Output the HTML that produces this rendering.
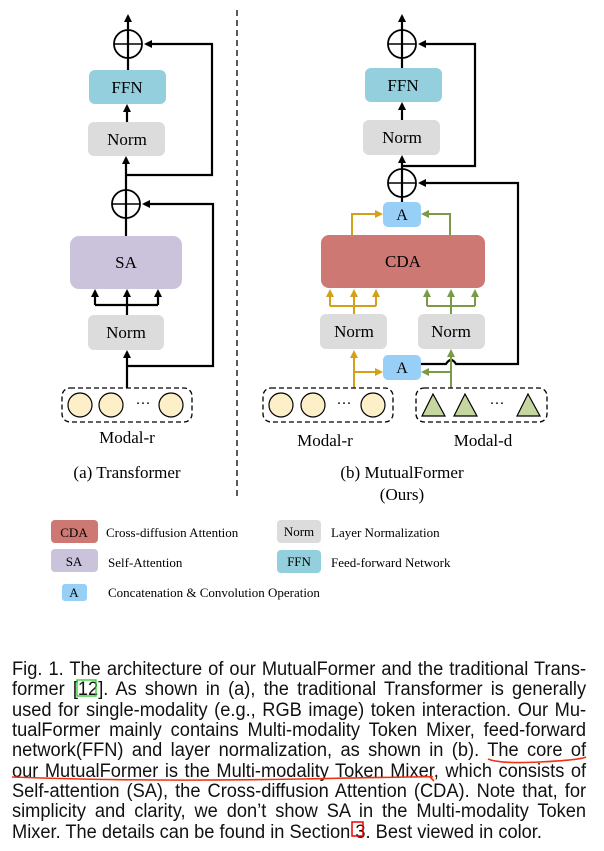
<!DOCTYPE html>
<html><head><meta charset="utf-8"><style>
body{margin:0;background:#fff;width:604px;height:851px;position:relative;overflow:hidden}
svg{position:absolute;left:0;top:0}
.cap{position:absolute;left:12px;width:598px;transform:scaleX(0.96);transform-origin:0 0;font-family:"Liberation Sans",sans-serif;font-size:19px;color:#111;line-height:20.35px;top:660px}
.cap div{text-align:justify;text-align-last:justify;white-space:nowrap}
.cap div.l{text-align-last:left}
</style></head><body>
<svg width="604" height="851" viewBox="0 0 604 851" font-family="Liberation Serif, serif">
<defs>
<marker id="ak" markerWidth="8" markerHeight="8" refX="6" refY="4" orient="auto" markerUnits="userSpaceOnUse"><path d="M0,0 L8,4 L0,8 z" fill="#000"/></marker>
<marker id="ay" markerWidth="8" markerHeight="8" refX="6" refY="4" orient="auto" markerUnits="userSpaceOnUse"><path d="M0,0 L8,4 L0,8 z" fill="#d4a017"/></marker>
<marker id="ag" markerWidth="8" markerHeight="8" refX="6" refY="4" orient="auto" markerUnits="userSpaceOnUse"><path d="M0,0 L8,4 L0,8 z" fill="#7a9a45"/></marker>
</defs>
<line x1="237" y1="10" x2="237" y2="500" stroke="#000" stroke-width="1.3" stroke-dasharray="6,4"/>
<g stroke="#000" stroke-width="2.2" fill="none">
<line x1="128" y1="30" x2="128" y2="16" marker-end="url(#ak)"/>
<circle cx="128" cy="44" r="14" stroke-width="1.8"/><line x1="114" y1="44" x2="142" y2="44" stroke-width="1.5"/><line x1="128" y1="30" x2="128" y2="70"/>
<polyline points="127,175 212,175 212,44 146,44" marker-end="url(#ak)"/>
<line x1="127" y1="122" x2="127" y2="106" marker-end="url(#ak)"/>
<line x1="126" y1="190" x2="126" y2="158" marker-end="url(#ak)"/>
<circle cx="126" cy="204" r="14" stroke-width="1.8"/><line x1="112" y1="204" x2="140" y2="204" stroke-width="1.5"/><line x1="126" y1="190" x2="126" y2="236"/>
<polyline points="127,366 213,366 213,204 144,204" marker-end="url(#ak)"/>
<line x1="127" y1="315" x2="127" y2="305"/><line x1="95" y1="305" x2="158" y2="305"/>
<line x1="95" y1="305" x2="95" y2="291" marker-end="url(#ak)"/><line x1="127" y1="305" x2="127" y2="291" marker-end="url(#ak)"/><line x1="158" y1="305" x2="158" y2="291" marker-end="url(#ak)"/>
<line x1="127" y1="388" x2="127" y2="352" marker-end="url(#ak)"/>
</g>
<rect x="89" y="70" width="77" height="34" rx="6" fill="#93cfdc"/><text x="127" y="93" font-size="17" text-anchor="middle">FFN</text>
<rect x="88" y="122" width="77" height="34" rx="6" fill="#dcdcdc"/><text x="127" y="145" font-size="17" text-anchor="middle">Norm</text>
<rect x="70" y="236" width="112" height="53" rx="9" fill="#cbc2dc"/><text x="126" y="268" font-size="17" text-anchor="middle">SA</text>
<rect x="88" y="315" width="76" height="35" rx="6" fill="#dcdcdc"/><text x="126" y="338" font-size="17" text-anchor="middle">Norm</text>
<rect x="62" y="388" width="130" height="34" rx="8" fill="none" stroke="#000" stroke-width="1.3" stroke-dasharray="5,3"/>
<g fill="#fdf0c8" stroke="#000" stroke-width="1.2"><circle cx="80" cy="405" r="12"/><circle cx="111" cy="405" r="12"/><circle cx="171" cy="405" r="12"/></g>
<text x="143" y="408" font-size="15" text-anchor="middle">···</text>
<text x="127" y="443" font-size="17" text-anchor="middle">Modal-r</text>
<text x="127" y="478" font-size="17" text-anchor="middle">(a) Transformer</text>
<g stroke="#000" stroke-width="2.2" fill="none">
<line x1="402" y1="30" x2="402" y2="16" marker-end="url(#ak)"/>
<circle cx="402" cy="44" r="14" stroke-width="1.8"/><line x1="388" y1="44" x2="416" y2="44" stroke-width="1.5"/><line x1="402" y1="30" x2="402" y2="68"/>
<polyline points="402,166 475,166 475,44 420,44" marker-end="url(#ak)"/>
<line x1="402" y1="120" x2="402" y2="104" marker-end="url(#ak)"/>
<line x1="402" y1="169" x2="402" y2="157" marker-end="url(#ak)"/>
<circle cx="402" cy="183" r="14" stroke-width="1.8"/><line x1="388" y1="183" x2="416" y2="183" stroke-width="1.5"/><line x1="402" y1="169" x2="402" y2="202"/>
<path d="M421,364 L446,364 Q451,356 456,364 L518,364 L518,183 L420,183" marker-end="url(#ak)"/>
</g>
<g stroke="#d4a017" stroke-width="2" fill="none">
<polyline points="352,235 352,214 381,214" marker-end="url(#ay)"/>
<line x1="354" y1="314" x2="354" y2="306"/><line x1="330" y1="306" x2="376" y2="306"/>
<line x1="330" y1="306" x2="330" y2="291" marker-end="url(#ay)"/><line x1="354" y1="306" x2="354" y2="291" marker-end="url(#ay)"/><line x1="376" y1="306" x2="376" y2="291" marker-end="url(#ay)"/>
<line x1="354" y1="388" x2="354" y2="352" marker-end="url(#ay)"/>
<polyline points="354,372 381,372" marker-end="url(#ay)"/>
</g>
<g stroke="#7a9a45" stroke-width="2" fill="none">
<polyline points="450,235 450,214 423,214" marker-end="url(#ag)"/>
<line x1="451" y1="314" x2="451" y2="306"/><line x1="427" y1="306" x2="475" y2="306"/>
<line x1="427" y1="306" x2="427" y2="291" marker-end="url(#ag)"/><line x1="451" y1="306" x2="451" y2="291" marker-end="url(#ag)"/><line x1="475" y1="306" x2="475" y2="291" marker-end="url(#ag)"/>
<line x1="451" y1="388" x2="451" y2="351" marker-end="url(#ag)"/>
<polyline points="451,372 423,372" marker-end="url(#ag)"/>
</g>
<rect x="365" y="68" width="77" height="34" rx="6" fill="#93cfdc"/><text x="403" y="91" font-size="17" text-anchor="middle">FFN</text>
<rect x="363" y="120" width="77" height="35" rx="6" fill="#dcdcdc"/><text x="402" y="143" font-size="17" text-anchor="middle">Norm</text>
<rect x="383" y="202" width="38" height="25" rx="5" fill="#97cff7"/><text x="402" y="220" font-size="16" text-anchor="middle">A</text>
<rect x="321" y="235" width="164" height="53" rx="8" fill="#cd7873"/><text x="403" y="267" font-size="17" text-anchor="middle">CDA</text>
<rect x="320" y="314" width="67" height="35" rx="6" fill="#dcdcdc"/><text x="354" y="337" font-size="17" text-anchor="middle">Norm</text>
<rect x="418" y="314" width="67" height="35" rx="6" fill="#dcdcdc"/><text x="451" y="337" font-size="17" text-anchor="middle">Norm</text>
<rect x="383" y="355" width="38" height="25" rx="5" fill="#97cff7"/><text x="402" y="373" font-size="16" text-anchor="middle">A</text>
<rect x="263" y="388" width="130" height="34" rx="8" fill="none" stroke="#000" stroke-width="1.3" stroke-dasharray="5,3"/>
<g fill="#fdf0c8" stroke="#000" stroke-width="1.2"><circle cx="281" cy="405" r="12"/><circle cx="313" cy="405" r="12"/><circle cx="373" cy="405" r="12"/></g>
<text x="344" y="408" font-size="15" text-anchor="middle">···</text>
<rect x="416" y="388" width="131" height="34" rx="8" fill="none" stroke="#000" stroke-width="1.3" stroke-dasharray="5,3"/>
<g fill="#c5d6a0" stroke="#000" stroke-width="1.2"><polygon points="433,394 422,416 445,416"/><polygon points="465,394 454,416 477,416"/><polygon points="528,394 517,416 540,416"/></g>
<text x="497" y="408" font-size="15" text-anchor="middle">···</text>
<text x="325" y="446" font-size="17" text-anchor="middle">Modal-r</text>
<text x="483" y="446" font-size="17" text-anchor="middle">Modal-d</text>
<text x="402" y="478" font-size="17" text-anchor="middle">(b) MutualFormer</text>
<text x="402" y="500" font-size="17" text-anchor="middle">(Ours)</text>
<rect x="51" y="520" width="47" height="23" rx="4" fill="#cd7873"/><text x="74" y="537" font-size="13" text-anchor="middle">CDA</text>
<text x="106" y="537" font-size="13">Cross-diffusion Attention</text>
<rect x="277" y="520" width="44" height="23" rx="4" fill="#dcdcdc"/><text x="299" y="536" font-size="13" text-anchor="middle">Norm</text>
<text x="331" y="537" font-size="13">Layer Normalization</text>
<rect x="51" y="549" width="47" height="23" rx="4" fill="#cbc2dc"/><text x="74" y="566" font-size="13" text-anchor="middle">SA</text>
<text x="108" y="567" font-size="13">Self-Attention</text>
<rect x="277" y="550" width="44" height="23" rx="4" fill="#93cfdc"/><text x="299" y="566" font-size="13" text-anchor="middle">FFN</text>
<text x="331" y="567" font-size="13">Feed-forward Network</text>
<rect x="62" y="584" width="25" height="17" rx="3" fill="#97cff7"/><text x="74" y="597" font-size="13" text-anchor="middle">A</text>
<text x="108" y="597" font-size="13">Concatenation &amp; Convolution Operation</text>
</svg>
<div class="cap">
<div>Fig. 1. The architecture of our MutualFormer and the traditional Trans-</div>
<div>former [12]. As shown in (a), the traditional Transformer is generally</div>
<div>used for single-modality (e.g., RGB image) token interaction. Our Mu-</div>
<div>tualFormer mainly contains Multi-modality Token Mixer, feed-forward</div>
<div>network(FFN) and layer normalization, as shown in (b). The core of</div>
<div>our MutualFormer is the Multi-modality Token Mixer, which consists of</div>
<div>Self-attention (SA), the Cross-diffusion Attention (CDA). Note that, for</div>
<div>simplicity and clarity, we don’t show SA in the Multi-modality Token</div>
<div class="l">Mixer. The details can be found in Section 3. Best viewed in color.</div>
</div>
<svg width="604" height="851" viewBox="0 0 604 851" style="pointer-events:none">
<rect x="77" y="680" width="19" height="16" fill="none" stroke="#22cc22" stroke-width="1.3"/>
<rect x="352" y="822" width="11" height="14" fill="none" stroke="#ee0000" stroke-width="1.5"/>
<path d="M488,759 Q500,764 540,762 T586,757" fill="none" stroke="#ee3311" stroke-width="1.6"/>
<path d="M12,777 Q150,782 300,779 T430,777 L434,781" fill="none" stroke="#ee3311" stroke-width="1.6"/>
</svg>
</body></html>
